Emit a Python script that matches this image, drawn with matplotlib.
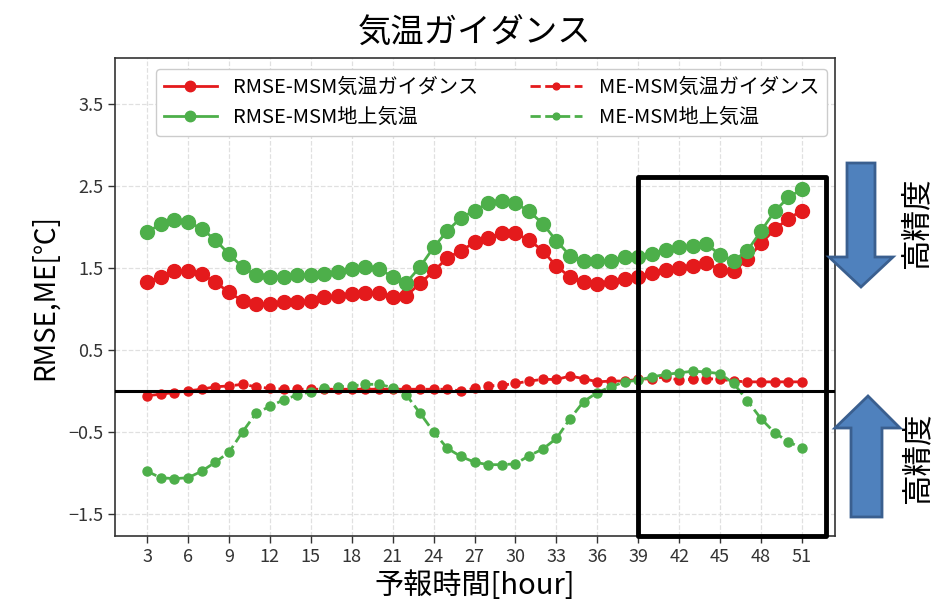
import matplotlib
matplotlib.use("Agg")
import matplotlib.pyplot as plt
from matplotlib.patches import Polygon, Rectangle

plt.rcParams['font.family'] = ['Noto Sans CJK JP', 'DejaVu Sans']
plt.rcParams['axes.unicode_minus'] = True

hours = list(range(3, 52))
xticks = list(range(3, 52, 3))
yticks = [-1.5, -0.5, 0.5, 1.5, 2.5, 3.5]

rmse_guidance = [1.33, 1.39, 1.46, 1.46, 1.42, 1.33, 1.20, 1.10, 1.06, 1.06,
                 1.08, 1.08, 1.10, 1.14, 1.16, 1.18, 1.19, 1.19, 1.14, 1.16,
                 1.31, 1.46, 1.62, 1.71, 1.81, 1.87, 1.92, 1.92, 1.84, 1.71,
                 1.52, 1.39, 1.33, 1.30, 1.33, 1.37, 1.39, 1.44, 1.48, 1.50,
                 1.52, 1.56, 1.48, 1.46, 1.61, 1.80, 1.97, 2.10, 2.20]
rmse_msm = [1.94, 2.03, 2.09, 2.06, 1.98, 1.84, 1.67, 1.51, 1.41, 1.39,
            1.39, 1.41, 1.41, 1.43, 1.45, 1.49, 1.51, 1.49, 1.39, 1.32,
            1.51, 1.75, 1.95, 2.11, 2.20, 2.29, 2.32, 2.29, 2.19, 2.04,
            1.83, 1.65, 1.59, 1.58, 1.59, 1.63, 1.63, 1.67, 1.72, 1.75,
            1.77, 1.79, 1.66, 1.59, 1.71, 1.95, 2.19, 2.36, 2.46]
me_guidance = [-0.06, -0.04, -0.02, 0.00, 0.02, 0.05, 0.06, 0.08, 0.05, 0.03,
               0.02, 0.02, 0.02, 0.02, 0.02, 0.02, 0.02, 0.02, 0.02, 0.02,
               0.02, 0.02, 0.02, 0.00, 0.03, 0.06, 0.07, 0.09, 0.12, 0.14,
               0.14, 0.18, 0.15, 0.11, 0.12, 0.12, 0.14, 0.15, 0.17, 0.13,
               0.14, 0.15, 0.14, 0.12, 0.11, 0.11, 0.11, 0.11, 0.11]
me_msm = [-0.98, -1.06, -1.07, -1.06, -0.98, -0.87, -0.75, -0.50, -0.27, -0.19,
          -0.11, -0.05, -0.01, 0.03, 0.05, 0.06, 0.08, 0.08, 0.04, -0.05,
          -0.27, -0.50, -0.70, -0.80, -0.87, -0.90, -0.90, -0.89, -0.79, -0.71,
          -0.58, -0.34, -0.13, -0.02, 0.05, 0.11, 0.13, 0.17, 0.20, 0.22,
          0.24, 0.23, 0.21, 0.09, -0.12, -0.34, -0.51, -0.62, -0.70]

RED = '#E41A1C'
GREEN = '#4DAF4A'

W, H = 937, 612
fig = plt.figure(figsize=(W / 100, H / 100), dpi=100)
ax = fig.add_axes([115 / W, 1 - 536 / H, (835 - 115) / W, (536 - 58) / H])

ax.plot(hours, rmse_guidance, '-o', color=RED, lw=2, ms=10, label='RMSE-MSM気温ガイダンス')
ax.plot(hours, rmse_msm, '-o', color=GREEN, lw=2, ms=10, label='RMSE-MSM地上気温')
ax.plot(hours, me_guidance, '--o', color=RED, lw=2, ms=6.5, label='ME-MSM気温ガイダンス')
ax.plot(hours, me_msm, '--o', color=GREEN, lw=2, ms=6.5, label='ME-MSM地上気温')

ax.axhline(0, color='black', lw=2.2, zorder=5)

ax.set_xlim(0.65, 53.42)
ax.set_ylim(-1.77, 4.06)
ax.set_xticks(xticks)
ax.set_yticks(yticks)
ax.tick_params(labelsize=13, direction='out', length=5, width=1, colors='#333333')
ax.grid(True, ls='--', color='#e0e0e0', lw=0.9)
for s in ax.spines.values():
    s.set_color('#333333')
    s.set_linewidth(1.2)

ax.set_title('気温ガイダンス', fontsize=24, pad=12)
ax.set_xlabel('予報時間[hour]', fontsize=21, labelpad=4)
ax.set_ylabel('RMSE,ME[℃]', fontsize=20, labelpad=6)

ax.legend(loc='upper center', ncol=2, fontsize=14.5, frameon=True,
          bbox_to_anchor=(0.523, 0.998), columnspacing=2.6, handlelength=2.6,
          markerscale=0.75, labelspacing=0.45, borderpad=0.4,
          edgecolor='#cccccc', framealpha=1)

# black highlight box
rect = Rectangle((39, ax.get_ylim()[0]), 52.74 - 39, 2.61 - ax.get_ylim()[0],
                 fill=False, edgecolor='black', lw=3.5, clip_on=False, zorder=6,
                 joinstyle='round')
ax.add_patch(rect)

def px(pts):
    return [(x / W, 1 - y / H) for x, y in pts]

FILL = '#4F81BD'
EDGE = '#3A5F8F'
down = px([(847, 163), (875, 163), (875, 257), (893, 257), (861, 287),
           (829, 257), (847, 257)])
up = px([(851, 517), (882, 517), (882, 428), (900, 428), (868, 396),
         (835, 428), (851, 428)])
for poly in (down, up):
    fig.add_artist(Polygon(poly, closed=True, facecolor=FILL, edgecolor=EDGE,
                           lw=2, transform=fig.transFigure, zorder=10))

fig.text(917 / W, 1 - 223 / H, '高精度', rotation=90, fontsize=22,
         ha='center', va='center')
fig.text(918 / W, 1 - 458 / H, '高精度', rotation=90, fontsize=22,
         ha='center', va='center')

fig.savefig('out.png', dpi=100)
